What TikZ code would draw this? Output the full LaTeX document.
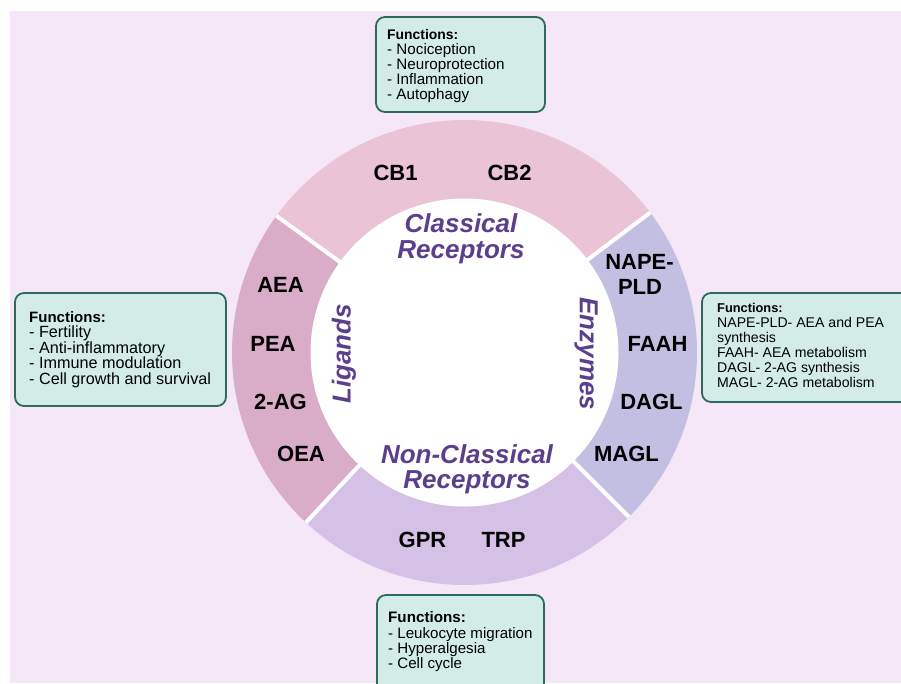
\documentclass[tikz,border=0pt]{standalone}
\usepackage{fontspec}
\setmainfont{Liberation Sans}
\definecolor{bg}{HTML}{F5E6F8}
\definecolor{boxfill}{HTML}{D3ECE7}
\definecolor{boxline}{HTML}{2E6A5C}
\definecolor{catpurple}{HTML}{5B3F8D}
\definecolor{classical}{HTML}{EAC3D6}
\definecolor{ligands}{HTML}{D9ACC8}
\definecolor{nonclass}{HTML}{D6C1E6}
\definecolor{enzymes}{HTML}{C3BFE3}
\begin{document}
\begin{tikzpicture}[x=1pt,y=-1pt,
  fbox/.style={draw=boxline, line width=1.8pt, fill=boxfill, rounded corners=9pt},
  ftxt/.style={anchor=base west, inner sep=0pt, font=\fontsize{#1}{15}\selectfont},
  fhead/.style={anchor=base west, inner sep=0pt, font=\fontsize{#1}{15}\selectfont\bfseries},
  ringlbl/.style={anchor=center, inner sep=0pt, font=\fontsize{22}{24}\selectfont\bfseries},
  cat/.style={inner sep=0pt, text=catpurple, font=\fontsize{26}{26}\selectfont\bfseries\itshape},
  gap/.style={white, line width=4pt}
]
\useasboundingbox (0,0) rectangle (901,683);
\fill[white] (0,0) rectangle (901,683);
\fill[bg] (10,11) rectangle (901,683);

% ring
\coordinate (c) at (464.5,352.5);
\fill[classical] (c) -- ++(-37:232.5) arc[start angle=-37, end angle=-144, radius=232.5] -- cycle;
\fill[ligands] (c) -- ++(-144:232.5) arc[start angle=-144, end angle=-227, radius=232.5] -- cycle;
\fill[nonclass] (c) -- ++(-227:232.5) arc[start angle=-227, end angle=-315, radius=232.5] -- cycle;
\fill[enzymes] (c) -- ++(-315:232.5) arc[start angle=-315, end angle=-397, radius=232.5] -- cycle;
\foreach \a in {37,144,227,315} \draw[gap] (c) -- ++(-\a:232.5);
\fill[white] (c) circle[radius=154];

% category labels
\node[cat, anchor=base] (cl1) at (461,232) {Classical};
\node[cat, anchor=base] (cl2) at (461,258) {Receptors};
\node[cat, anchor=base] (nc1) at (467,463) {Non-Classical};
\node[cat, anchor=base] (nc2) at (467,488) {Receptors};
\node[cat, anchor=center, rotate=90] (lig) at (344,354) {Ligands};
\node[cat, anchor=center, rotate=-90] (enz) at (586,354) {Enzymes};

% ring labels
\node[ringlbl] (cb1) at (395.5,173) {CB1};
\node[ringlbl] (cb2) at (509.5,173) {CB2};
\node[ringlbl] (nape) at (639.5,261.5) {NAPE-};
\node[ringlbl] (pld) at (640,286.5) {PLD};
\node[ringlbl] (faah) at (657.5,344) {FAAH};
\node[ringlbl] (dagl) at (651.5,402) {DAGL};
\node[ringlbl] (magl) at (626.5,454) {MAGL};
\node[ringlbl] (trp) at (503.5,540) {TRP};
\node[ringlbl] (gpr) at (422.5,540) {GPR};
\node[ringlbl] (oea) at (301,454) {OEA};
\node[ringlbl] (twoag) at (280.5,402) {2-AG};
\node[ringlbl] (pea) at (273,344) {PEA};
\node[ringlbl] (aea) at (280.5,285) {AEA};

% function boxes
\draw[fbox] (376,17) rectangle (545,112);
\node[fhead=13.9] (t0) at (387,39) {Functions:};
\node[ftxt=15.2] (t1) at (387,54) {- Nociception};
\node[ftxt=15.2] (t2) at (387,69) {- Neuroprotection};
\node[ftxt=15.2] (t3) at (387,84) {- Inflammation};
\node[ftxt=15.2] (t4) at (387,99) {- Autophagy};

\draw[fbox] (15,293) rectangle (226,406);
\node[fhead=15] (l0) at (29,322) {Functions:};
\node[ftxt=16.2] (l1) at (29,337.5) {- Fertility};
\node[ftxt=16.2] (l2) at (29,353) {- Anti-inflammatory};
\node[ftxt=16.2] (l3) at (29,368.5) {- Immune modulation};
\node[ftxt=16.2] (l4) at (29,384) {- Cell growth and survival};

\draw[fbox] (702,293) rectangle (930,402);
\node[fhead=12.8] (r0) at (717,312) {Functions:};
\node[ftxt=14.1] (r1) at (717,327) {NAPE-PLD- AEA and PEA};
\node[ftxt=14.1] (r2) at (717,342) {synthesis};
\node[ftxt=14.1] (r3) at (717,357) {FAAH- AEA metabolism};
\node[ftxt=14.1] (r4) at (717,372) {DAGL- 2-AG synthesis};
\node[ftxt=14.1] (r5) at (717,387) {MAGL- 2-AG metabolism};

\draw[fbox] (377,595) rectangle (544,710);
\node[fhead=15.2] (b0) at (388,622) {Functions:};
\node[ftxt=15.1] (b1) at (388,638) {- Leukocyte migration};
\node[ftxt=15.1] (b2) at (388,653) {- Hyperalgesia};
\node[ftxt=15.1] (b3) at (388,668) {- Cell cycle};
\end{tikzpicture}
\end{document}
